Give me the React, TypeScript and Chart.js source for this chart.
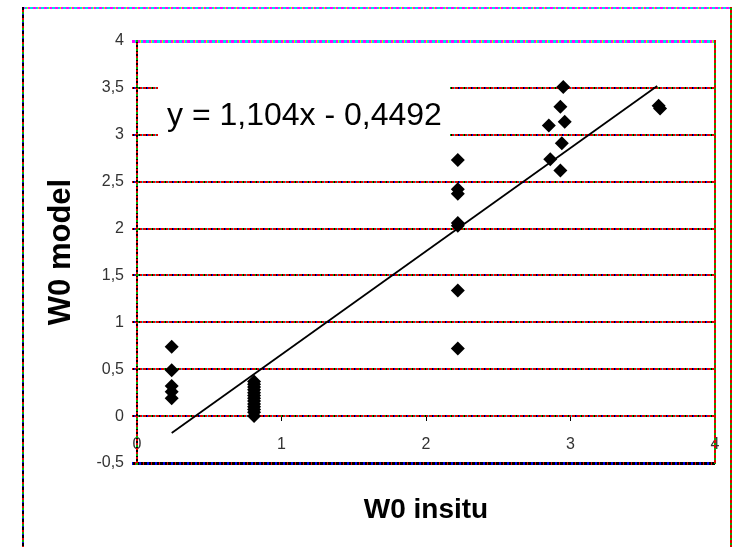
import React, { useEffect, useRef } from 'react';
import { Chart, registerables } from 'chart.js';

Chart.register(...registerables);

// ---- data ----
const insituX = [
  0.24, 0.24, 0.24, 0.24, 0.24,
  0.81, 0.81, 0.81, 0.81, 0.81, 0.81, 0.81, 0.81, 0.81, 0.81, 0.81, 0.81, 0.81,
  2.22, 2.22, 2.22, 2.22, 2.22, 2.22, 2.22,
  2.95, 2.93, 2.96, 2.85, 2.94, 2.86, 2.93,
  3.61, 3.62,
];
const modelY = [
  0.74, 0.49, 0.32, 0.26, 0.19,
  0.37, 0.34, 0.31, 0.28, 0.25, 0.22, 0.19, 0.16, 0.13, 0.1, 0.07, 0.04, 0.0,
  2.73, 2.42, 2.37, 2.06, 2.03, 1.34, 0.72,
  3.51, 3.3, 3.14, 3.1, 2.91, 2.74, 2.62,
  3.31, 3.28,
];
const trendX = [0.24, 3.6];
const trendY = [-0.18, 3.52];
const equationText = 'y = 1,104x - 0,4492';
const xTitle = 'W0 insitu';
const yTitle = 'W0 model';
const xMin = 0;
const xMax = 4;
const xStep = 1;
const yMin = -0.5;
const yMax = 4;
const yStep = 0.5;

const FONT = '"Liberation Sans", Arial, sans-serif';

type Seg = [string, number];

function makePattern(segs: Seg[], vertical: boolean): CanvasPattern {
  const total = segs.reduce((a, s) => a + s[1], 0);
  const c = document.createElement('canvas');
  c.width = vertical ? 4 : total;
  c.height = vertical ? total : 4;
  const g = c.getContext('2d')!;
  let p = 0;
  for (const [col, len] of segs) {
    g.fillStyle = col;
    if (vertical) g.fillRect(0, p, 4, len);
    else g.fillRect(p, 0, len, 4);
    p += len;
  }
  return g.createPattern(c, 'repeat')!;
}

export default function App() {
  const ref = useRef<HTMLCanvasElement>(null);

  useEffect(() => {
    const canvas = ref.current!;
    const gridPat = makePattern(
      [['#e00000', 3], ['#000000', 1], ['#0000ee', 1], ['#e00000', 3], ['#00b000', 1], ['#000000', 1], ['#e00000', 2], ['#00c8c8', 1]],
      false
    );
    const topPat = makePattern(
      [['#ff00ff', 3], ['#00e0e0', 3], ['#ff00ff', 2], ['#e0e000', 1], ['#00e0e0', 2]],
      false
    );
    const botPat = makePattern(
      [['#000000', 3], ['#0000ee', 2], ['#000000', 2], ['#e00000', 1]],
      false
    );
    const leftPat = makePattern(
      [['#000000', 2], ['#e00000', 2], ['#00b000', 2], ['#000000', 1], ['#e00000', 2]],
      true
    );
    const rightPat = makePattern([['#e00000', 3], ['#00b000', 2]], true);
    const outerTopPat = makePattern(
      [['#ff00ff', 3], ['#00e0e0', 2], ['#e0e000', 1], ['#ff00ff', 2], ['#00e0e0', 3]],
      false
    );
    const outerLeftPat = makePattern(
      [['#000000', 2], ['#e00000', 2], ['#00b000', 2], ['#0000ee', 1], ['#000000', 1]],
      true
    );
    const outerRightPat = makePattern([['#e00000', 3], ['#00b000', 2]], true);

    const framePlugin = {
      id: 'outerFrame',
      beforeDraw(chart: any) {
        const ctx = chart.ctx as CanvasRenderingContext2D;
        ctx.save();
        ctx.lineWidth = 2;
        ctx.strokeStyle = outerTopPat;
        ctx.beginPath();
        ctx.moveTo(22, 8);
        ctx.lineTo(732, 8);
        ctx.stroke();
        ctx.strokeStyle = outerLeftPat;
        ctx.beginPath();
        ctx.moveTo(23, 7);
        ctx.lineTo(23, 547);
        ctx.stroke();
        ctx.strokeStyle = outerRightPat;
        ctx.beginPath();
        ctx.moveTo(731, 7);
        ctx.lineTo(731, 547);
        ctx.stroke();
        ctx.restore();
      },
    };

    const equationPlugin = {
      id: 'equationLabel',
      beforeDatasetsDraw(chart: any) {
        const ctx = chart.ctx as CanvasRenderingContext2D;
        ctx.save();
        ctx.fillStyle = '#ffffff';
        ctx.fillRect(158, 84, 292, 54);
        ctx.fillStyle = '#000000';
        ctx.font = '32px ' + FONT;
        ctx.textBaseline = 'middle';
        ctx.textAlign = 'left';
        ctx.fillText(equationText, 167, 116);
        ctx.restore();
      },
    };

    const points = insituX.map((x, i) => ({ x, y: modelY[i] }));
    const trend = trendX.map((x, i) => ({ x, y: trendY[i] }));

    Chart.defaults.font.family = FONT;

    const chart = new Chart(canvas, {
      type: 'scatter',
      data: {
        datasets: [
          {
            data: trend,
            showLine: true,
            borderColor: '#000000',
            borderWidth: 1.8,
            pointRadius: 0,
            fill: false,
          } as any,
          {
            data: points,
            pointStyle: 'rectRot',
            pointRadius: 7,
            backgroundColor: '#000000',
            borderColor: '#000000',
            borderWidth: 0,
          },
        ],
      },
      options: {
        responsive: false,
        animation: false,
        events: [],
        layout: { padding: { top: 41, right: 0, bottom: 0, left: 0 } },
        plugins: {
          legend: { display: false },
          tooltip: { enabled: false },
        },
        scales: {
          x: {
            type: 'linear',
            position: { y: 0 } as any,
            min: xMin,
            max: xMax,
            ticks: {
              stepSize: xStep,
              padding: 14,
              color: '#333333',
              font: { size: 16 },
              callback: (v: any) => String(v),
            },
            grid: {
              drawOnChartArea: false,
              drawTicks: true,
              tickLength: 5,
              color: '#000000',
              lineWidth: 1,
            },
            border: { display: false },
          },
          xt: {
            type: 'linear',
            position: 'bottom',
            ticks: { display: false },
            grid: { display: false },
            border: { display: false },
            title: {
              display: true,
              text: xTitle,
              color: '#000000',
              font: { size: 28, weight: 'bold' },
              padding: { top: 0, bottom: 20 },
            },
            afterFit: (s: any) => {
              s.height = 84;
            },
          },
          y: {
            type: 'linear',
            position: 'left',
            min: yMin,
            max: yMax,
            ticks: {
              stepSize: yStep,
              padding: 8,
              color: '#333333',
              font: { size: 16 },
              callback: (v: any) => String(v).replace('.', ','),
            },
            grid: {
              color: (c: any) => {
                const v = c.tick ? c.tick.value : 0;
                if (v === yMax) return topPat;
                if (v === yMin) return botPat;
                return gridPat;
              },
              lineWidth: (c: any) => {
                const v = c.tick ? c.tick.value : 0;
                if (v === yMax || v === yMin) return 3;
                return 2;
              },
              drawTicks: true,
              tickLength: 5,
            },
            border: { display: true, color: leftPat as any, width: 2 },
            title: {
              display: true,
              text: yTitle,
              color: '#000000',
              font: { size: 31, weight: 'bold' },
              padding: { top: 43, bottom: 0 },
            },
            afterFit: (s: any) => {
              s.width = 137;
            },
          },
          y2: {
            type: 'linear',
            position: 'right',
            min: yMin,
            max: yMax,
            ticks: { display: false },
            grid: { display: false },
            border: { display: true, color: rightPat as any, width: 2 },
            afterFit: (s: any) => {
              s.width = 25;
            },
          },
        },
      } as any,
      plugins: [framePlugin, equationPlugin],
    });

    return () => chart.destroy();
  }, []);

  return (
    <div style={{ position: 'fixed', left: 0, top: 0, width: 740, height: 547, background: '#ffffff' }}>
      <canvas ref={ref} width={740} height={547} style={{ display: 'block', width: 740, height: 547 }} />
    </div>
  );
}
